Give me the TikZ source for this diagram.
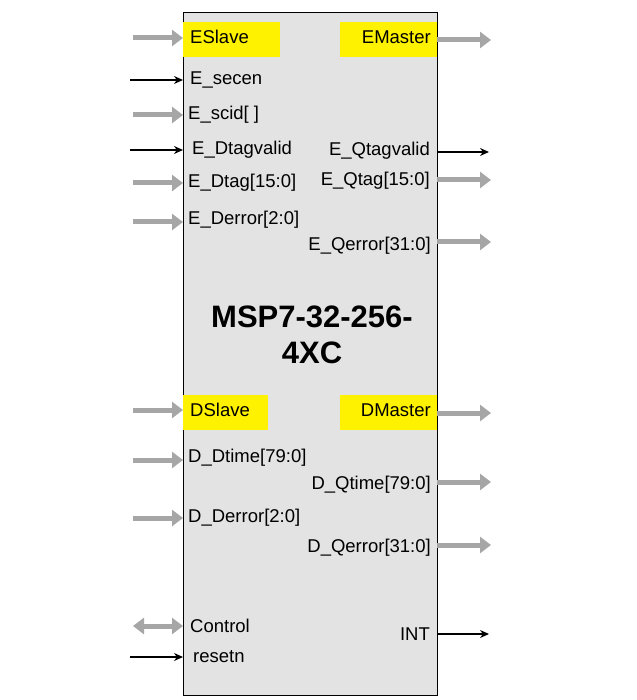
\documentclass[tikz,border=0pt]{standalone}
\usepackage{fontspec}
\setmainfont{Liberation Sans}
\usetikzlibrary{arrows.meta}
\tikzset{
  bus/.style={line width=5pt, draw=gray!70, -{Triangle[length=11pt,width=16pt]}},
  dbus/.style={line width=5pt, draw=gray!70, {Triangle[length=11pt,width=16pt]}-{Triangle[length=11pt,width=16pt]}},
  sig/.style={line width=1.4pt, -{Stealth[length=9pt,width=8pt]}},
  port/.style={fill=yellow, minimum height=35pt, inner sep=0pt},
  lpin/.style={anchor=west, inner sep=0pt, font=\fontsize{18.5}{21}\selectfont},
  rpin/.style={anchor=east, inner sep=0pt, font=\fontsize{18.5}{21}\selectfont}
}
\begin{document}
\begin{tikzpicture}[x=1pt,y=-1pt]
  \useasboundingbox (0,0) rectangle (636,700);
  \filldraw[fill=gray!22, draw=black, line width=0.8pt] (183,12) rectangle (437,695);

  % yellow port boxes
  \node[port, minimum width=97pt, anchor=north west] (eslave) at (183,22) {};
  \node[port, minimum width=97pt, anchor=north east] (emaster) at (437,22) {};
  \node[port, minimum width=85pt, anchor=north west] (dslave) at (183,395) {};
  \node[port, minimum width=97pt, anchor=north east] (dmaster) at (437,395) {};
  \node[lpin] at (190,37) {ESlave};
  \node[rpin] at (431,37) {EMaster};
  \node[lpin] at (190,410) {DSlave};
  \node[rpin] at (431,410) {DMaster};

  % title
  \node[font=\fontsize{31}{36}\selectfont\bfseries, align=center] (title) at (312,335) {MSP7-32-256-\\4XC};

  % left pins
  \node[lpin] (secen) at (190,80) {E\_secen};
  \node[lpin] (scid) at (188,115) {E\_scid[ ]};
  \node[lpin] (dtagv) at (192,150) {E\_Dtagvalid};
  \node[lpin] (dtag) at (188,183) {E\_Dtag[15:0]};
  \node[lpin] (derr) at (188,220) {E\_Derror[2:0]};
  \node[lpin] (dtime) at (188,458) {D\_Dtime[79:0]};
  \node[lpin] (dderr) at (188,518) {D\_Derror[2:0]};
  \node[lpin] (ctrl) at (190,626) {Control};
  \node[lpin] (rst) at (193,657) {resetn};

  % right pins
  \node[rpin] (qtagv) at (430,151) {E\_Qtagvalid};
  \node[rpin] (qtag) at (430,181) {E\_Qtag[15:0]};
  \node[rpin] (qerr) at (431,246) {E\_Qerror[31:0]};
  \node[rpin] (qtime) at (431,485) {D\_Qtime[79:0]};
  \node[rpin] (dqerr) at (431,548) {D\_Qerror[31:0]};
  \node[rpin] (int) at (430,634) {INT};

  % inputs
  \foreach \y in {38,115,183,222,410,460,518}
    \draw[bus] (133,\y) -- (183,\y);
  \foreach \y in {80,150,657}
    \draw[sig] (130,\y) -- (183,\y);
  \draw[dbus] (133,626) -- (183,626);

  % outputs
  \foreach \y in {40,180,242,413,482,545}
    \draw[bus] (437,\y) -- (491,\y);
  \foreach \y in {152,634}
    \draw[sig] (437,\y) -- (489,\y);
\end{tikzpicture}
\end{document}
